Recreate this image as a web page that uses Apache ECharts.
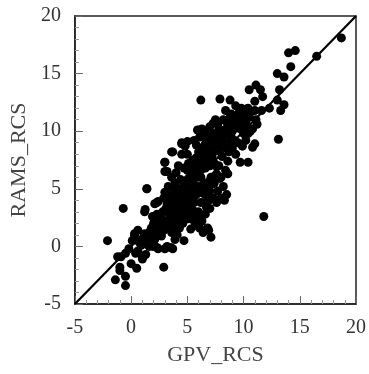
<!DOCTYPE html>
<html><head><meta charset="utf-8">
<script src="https://cdn.jsdelivr.net/npm/echarts@6/dist/echarts.min.js"></script>
<style>html,body{margin:0;padding:0;background:#fff}#c{width:369px;height:374px}</style>
</head><body><div id="c"></div>
<script>
const xTitle = "GPV_RCS";
const yTitle = "RAMS_RCS";
const axisMin = -5, axisMax = 20, axisStep = 5;
const lineRef = [[-5, -5], [20, 20]];
const gpvX = [
-2.1,-0.7,-1.4,-0.9,-1.0,-1.0,-0.5,-0.5,-1.2,-0.5,-0.2,0.0,0.5,0.3,0.6,0.1,0.4,1.0,1.2,1.2,1.4,1.6,1.9,2.1,2.1,2.4,2.9,2.9,3.0,3.0,3.3,3.0,3.0,3.7,3.7,3.9,4.7,4.0,4.5,5.0,6.2,6.1,7.0,6.9,7.1,7.9,8.8,9.7,10.4,11.8,13.1,10.5,11.1,11.7,11.5,13.0,13.6,13.2,13.0,13.6,13.3,14.0,14.6,14.2,16.5,18.7,12.3,11.6,11.0,11.1,10.7,10.4,11.0,10.8,
0.8,1.1,1.5,1.8,2.0,2.2,2.5,2.6,2.8,3.1,3.3,3.4,3.6,3.8,3.2,2.9,2.4,3.5,3.9,4.1,4.2,3.7,4.0,2.7,3.2,3.5,2.3,1.9,1.3,1.0,0.6,0.9,1.6,2.1,2.6,3.0,3.9,4.3,4.5,4.4,4.6,4.1,3.7,3.3,4.4,4.0,4.2,4.7,4.5,4.8,3.6,3.9,
4.8,5.0,5.2,5.1,5.3,4.9,5.5,5.2,5.6,5.8,5.4,5.9,6.0,5.7,5.3,6.1,6.3,6.2,6.4,6.0,5.7,5.4,5.1,5.0,5.5,5.9,6.2,6.5,6.6,6.3,6.0,5.8,6.4,6.7,6.5,6.8,5.6,6.9,6.7,7.0,6.8,7.1,7.0,7.2,7.4,7.6,7.3,7.8,7.5,7.7,7.9,8.0,8.1,7.8,7.6,7.4,7.7,8.0,8.3,8.5,8.2,8.0,8.4,8.6,8.7,8.5,8.3,8.6,8.8,8.4,8.2,9.0,9.2,9.0,9.3,9.5,9.7,9.4,9.6,9.9,9.3,9.8,10.1,10.0,10.3,10.5,10.2,9.9,10.6,10.0,9.1,8.9,7.0,7.2,6.9,6.6,6.1,6.3,5.9,6.0,5.6,5.3,4.7,4.6,5.0,4.9,4.6,5.5,6.6,7.0,7.3,7.6,6.8,6.4,
10.8,11.2,10.4,11.0,3.6,3.0,3.2,4.5,2.3,1.25,1.4,
4.3,4.9,5.4,5.8,6.1,6.5,7.1,7.5,8.1,8.9,9.4,5.2,5.7,6.3,6.9,7.4,8.2,4.6,5.1,5.6,6.2,6.7,7.2,7.9,8.6,9.1,3.4,3.8,4.2,4.8,5.3,5.9,6.4,6.9,7.4,8.0,8.7,9.6,2.6,3.1,5.0,5.5,6.1,6.6,7.1,7.7,8.3,8.9,4.4,5.0,5.8,6.8,7.3,7.9,8.4,9.0,9.5,10.2,1.9,2.3,2.8,3.6,4.1,0.3,0.7,1.3,1.7,2.2
];
const ramsY = [
0.5,3.3,-2.9,-0.9,-1.8,-2.1,-2.6,-3.4,-0.9,-0.6,-0.2,-1.5,-1.9,1.1,1.4,0.5,-0.6,-1.0,1.1,3.0,5.0,0.0,1.1,2.3,3.7,-0.2,1.4,-1.8,-0.2,4.7,4.0,6.5,7.3,8.2,-0.2,1.5,0.5,2.9,8.9,9.1,12.7,10.1,10.4,1.4,0.8,12.8,12.7,7.3,7.3,2.6,9.3,13.6,14.0,13.0,13.6,15.0,14.7,13.6,12.7,12.3,11.8,16.8,17.0,15.6,16.5,18.1,12.0,11.8,12.6,11.0,11.7,9.8,8.9,8.6,
0.3,0.8,1.0,1.6,2.0,1.2,1.8,2.5,3.0,2.2,1.9,2.8,3.4,2.5,3.7,4.2,3.9,4.4,3.9,3.0,2.1,1.8,1.7,0.9,0.0,-0.1,-0.1,0.0,-0.7,-1.1,-0.4,0.1,0.7,0.6,1.3,1.5,0.6,1.6,2.5,3.6,4.2,4.5,5.0,5.2,5.8,6.4,7.0,6.8,8.0,8.7,6.0,5.5,
3.0,3.5,2.8,4.2,4.8,5.0,5.5,6.0,3.8,4.5,3.2,2.4,3.0,1.8,1.5,1.6,2.2,3.8,4.6,5.2,6.3,6.8,7.2,8.0,7.5,7.0,6.0,5.5,6.8,7.5,8.2,8.8,8.6,9.0,9.6,10.0,9.2,4.0,3.4,4.8,5.2,6.0,7.0,7.8,8.5,9.2,9.8,10.2,11.0,10.6,9.6,8.8,7.8,7.0,6.3,5.5,4.8,4.2,4.0,4.5,5.2,6.0,6.6,7.4,8.2,9.0,9.8,10.5,11.2,11.8,11.0,10.0,9.2,8.5,8.0,9.0,10.2,11.0,11.6,11.2,12.2,12.0,10.8,9.8,10.5,11.2,9.2,8.7,10.0,11.5,10.8,9.5,8.4,9.1,7.6,8.0,9.5,10.2,10.1,6.6,5.0,5.6,5.4,4.8,4.6,3.9,3.3,2.3,2.8,3.3,4.2,3.8,1.6,1.2,
10.2,10.6,12.0,11.8,8.2,7.3,6.5,9.0,3.8,3.2,5.0,
4.0,4.4,5.0,6.5,7.6,7.3,8.1,7.0,9.4,10.6,10.3,3.6,3.0,4.9,5.6,6.1,8.6,2.0,2.4,4.3,2.7,4.3,5.4,5.9,6.3,8.9,2.0,3.3,3.0,4.7,5.9,6.0,9.8,9.4,7.2,9.9,9.7,11.4,2.8,3.3,6.6,6.3,5.1,8.9,7.4,8.3,10.1,11.5,5.0,5.8,7.7,7.9,10.7,9.3,10.9,10.3,10.5,11.9,2.6,2.8,2.3,1.2,1.0,0.9,0.4,0.4,1.3,1.0
];
const points = gpvX.map((x, i) => [x, ramsY[i]]);

const chart = echarts.init(document.getElementById('c'), null, {renderer: 'canvas'});
const serif = '"Liberation Serif","Times New Roman",serif';
function axisCfg(name, isY) {
  return {
    type: 'value', min: axisMin, max: axisMax, interval: axisStep,
    name: name, nameLocation: 'middle', nameGap: isY ? 42 : 40,
    nameTextStyle: {fontFamily: serif, fontSize: 22, color: '#444'},
    axisLine: {show: true, onZero: false, lineStyle: {color: '#222', width: 1.5}},
    axisTick: {show: true, inside: true, length: 8, lineStyle: {color: '#666'}},
    minorTick: {show: true, splitNumber: 5, length: 4, lineStyle: {color: '#999'}},
    axisLabel: {fontFamily: serif, fontSize: 20, color: '#333', margin: 14},
    splitLine: {show: false}
  };
}
const xa = axisCfg(xTitle, false);
xa.minorTick.length = 4;
const ya = axisCfg(yTitle, true);
chart.setOption({
  animation: false,
  backgroundColor: '#fff',
  grid: {left: 71, right: 10, top: 16, bottom: 70, show: true, borderColor: '#222', borderWidth: 1.5, backgroundColor: 'transparent'},
  xAxis: xa,
  yAxis: ya,
  series: [
    {type: 'line', data: lineRef, symbol: 'none', lineStyle: {color: '#000', width: 2.2}, z: 3},
    {type: 'scatter', data: points, symbolSize: 9, itemStyle: {color: '#000', opacity: 1}, z: 4}
  ]
});
</script></body></html>
